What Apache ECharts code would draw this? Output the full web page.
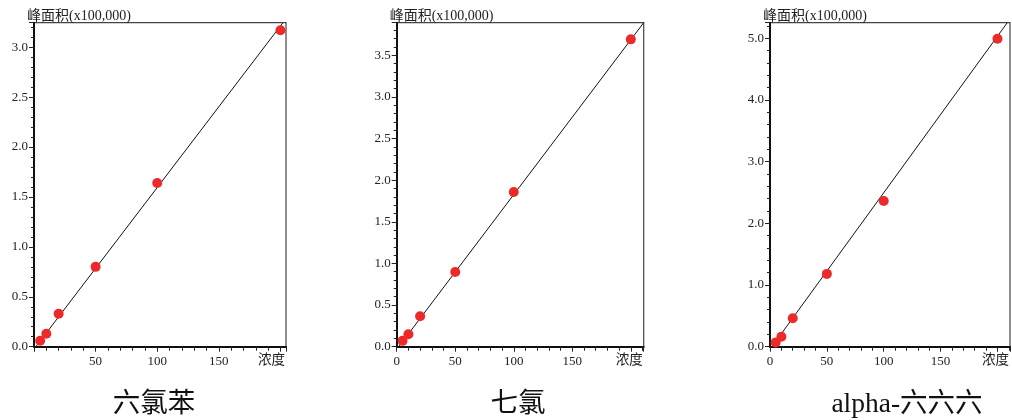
<!DOCTYPE html>
<html>
<head>
<meta charset="utf-8">
<script src="https://cdn.jsdelivr.net/npm/echarts@6/dist/echarts.min.js"></script>
<style>html,body{margin:0;padding:0;background:#fff}#c{width:1012px;height:420px}</style>
</head>
<body>
<div id="c"></div>
<script>
// concentrations (x)
const conc = [5, 10, 20, 50, 100, 200];
// peak areas (x100,000)
const areaHCB = [0.06, 0.13, 0.33, 0.80, 1.64, 3.17];
const areaHeptachlor = [0.07, 0.15, 0.365, 0.897, 1.857, 3.69];
const areaAlphaBHC = [0.07, 0.16, 0.46, 1.18, 2.36, 4.99];
// calibration line end points [conc, area]
const fitHCB = [[1.5, 0], [202, 3.246]];
const fitHeptachlor = [[1.75, 0], [211, 3.89]];
const fitAlphaBHC = [[1.7, 0], [208.6, 5.25]];
// texts
const titles = ['六氯苯', '七氯', 'alpha-六六六'];
const yName = '峰面积(x100,000)';
const xName = '浓度';
// axis ranges / ticks
const xMax = [204.5, 211, 211];
const yMax = [3.246, 3.89, 5.25];
const yInterval = [0.5, 0.5, 1.0];
const xInterval = 50;

const seriesData = [areaHCB, areaHeptachlor, areaAlphaBHC];
const fits = [fitHCB, fitHeptachlor, fitAlphaBHC];

const SERIF = '"Liberation Serif","Noto Sans CJK SC",serif';
const gridPos = [
  {left: 34, top: 22.7, width: 252, height: 324},
  {left: 396.7, top: 22.7, width: 247, height: 324},
  {left: 770, top: 22.7, width: 247, height: 324}
];
const titleX = [149, 513, 902];

const option = {
  animation: false,
  title: titles.map((t, i) => ({
    text: t, left: titleX[i], top: 386, textAlign: 'center',
    textStyle: {fontFamily: SERIF, fontSize: 27.5, fontWeight: 'normal', color: '#111'}
  })),
  grid: gridPos.map(g => Object.assign({show: true, borderColor: '#444', borderWidth: 1.2, backgroundColor: 'transparent', containLabel: false}, g)),
  xAxis: [0, 1, 2].map(i => ({
    type: 'value', gridIndex: i, min: 0, max: xMax[i], interval: xInterval,
    name: xName, nameLocation: 'end', nameGap: -1, nameMoveOverlap: false,
    nameTextStyle: {fontFamily: SERIF, fontSize: 13.5, color: '#222', align: 'right', verticalAlign: 'top', padding: [7, 0, 0, 0]},
    axisLine: {show: true, onZero: false, lineStyle: {color: '#111', width: 2}},
    axisTick: {show: true, inside: false, length: 5, lineStyle: {color: '#222', width: 1}},
    minorTick: {show: true, splitNumber: 5, length: 4, lineStyle: {color: '#222', width: 1}},
    splitLine: {show: false},
    axisLabel: {
      show: true, margin: 8, showMaxLabel: false,
      fontFamily: SERIF, fontSize: 13, color: '#222',
      formatter: v => (v === 200 ? '' : (i === 0 && v === 0 ? '' : String(v)))
    }
  })),
  yAxis: [0, 1, 2].map(i => ({
    type: 'value', gridIndex: i, min: 0, max: yMax[i], interval: yInterval[i],
    name: yName, nameLocation: 'end', nameGap: -1, nameMoveOverlap: false,
    nameTextStyle: {fontFamily: SERIF, fontSize: 14, color: '#222', align: 'left', verticalAlign: 'bottom', padding: [0, 0, 0, -7]},
    axisLine: {show: true, onZero: false, lineStyle: {color: '#111', width: 2}},
    axisTick: {show: true, inside: false, length: 5, lineStyle: {color: '#222', width: 1}},
    minorTick: {show: true, splitNumber: 5, length: 3, lineStyle: {color: '#222', width: 1}},
    splitLine: {show: false},
    axisLabel: {
      show: true, margin: 6, showMaxLabel: false,
      fontFamily: SERIF, fontSize: 13, color: '#222',
      formatter: v => v.toFixed(1)
    }
  })),
  series: [].concat(
    fits.map((f, i) => ({
      type: 'line', xAxisIndex: i, yAxisIndex: i, data: f, showSymbol: false, symbol: 'none',
      lineStyle: {color: '#111', width: 1}, clip: true, z: 2, silent: true
    })),
    seriesData.map((d, i) => ({
      type: 'scatter', xAxisIndex: i, yAxisIndex: i,
      data: conc.map((c, k) => [c, d[k]]),
      symbol: 'circle', symbolSize: 10,
      itemStyle: {color: '#ec2a2a', opacity: 1}, z: 3
    }))
  )
};
const chart = echarts.init(document.getElementById('c'), null, {renderer: 'canvas'});
chart.setOption(option);
</script>
</body>
</html>
